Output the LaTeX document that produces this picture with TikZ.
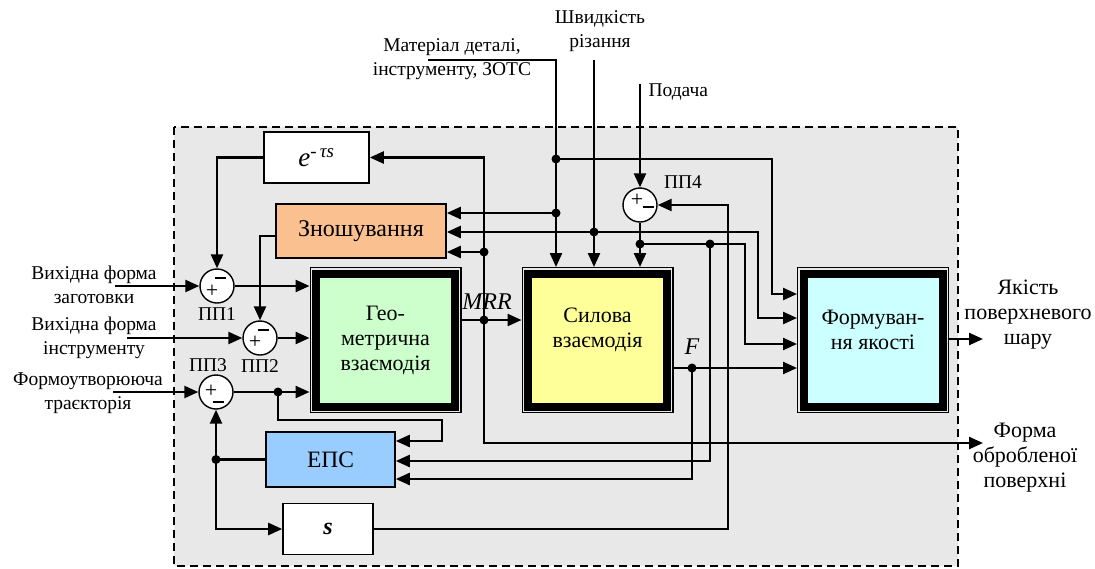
\documentclass[tikz,border=0pt]{standalone}
\usepackage{fontspec}
\setmainfont{Liberation Serif}
\usetikzlibrary{arrows.meta, positioning}

\definecolor{bggray}{HTML}{E8E8E8}
\definecolor{geogreen}{HTML}{CCFFCC}
\definecolor{forceyellow}{HTML}{FFFF99}
\definecolor{qualcyan}{HTML}{CCFFFF}
\definecolor{epsblue}{HTML}{99CCFF}
\definecolor{wearorange}{HTML}{FAC090}

\begin{document}
\begin{tikzpicture}[
    x=1pt, y=-1pt,
    every node/.style={font=\fontsize{19.5}{24}\selectfont},
    bigtxt/.style={font=\fontsize{22}{25}\selectfont},
    wire/.style={line width=2.4pt},
    arrow/.style={line width=2.4pt, -{Triangle[length=14pt,width=12pt]}},
    boundary/.style={fill=bggray, line width=2.4pt, dash pattern=on 8pt off 5pt},
    simple/.style={rectangle, draw=black, line width=1.6pt, inner sep=0pt},
    mainblock/.style={rectangle, draw=black, line width=8pt, minimum width=139pt, minimum height=133pt,
        outer sep=6.5pt, align=center, bigtxt,
        preaction={draw=black, line width=13pt}, preaction={draw=bggray, line width=10.5pt}},
    sum/.style={circle, draw=black, fill=white, line width=1.4pt, minimum size=34pt, inner sep=0pt},
    sgn/.style={font=\fontsize{22}{22}\selectfont, inner sep=0pt},
    dot/.style={circle, fill=black, inner sep=0pt, minimum size=9pt},
    lbl/.style={align=center}
]
\useasboundingbox (0,0) rectangle (1095,568);

% process boundary
\draw[boundary] (174,127) rectangle (958,566);

% blocks
\node[simple, fill=white, minimum width=105pt, minimum height=51pt, font=\fontsize{27}{27}\selectfont] (delay) at (316.5,157.5) {\textit{e}\textsuperscript{-\,\textit{τs}}};
\node[simple, fill=wearorange, minimum width=170pt, minimum height=54pt, font=\fontsize{24}{24}\selectfont] (wear) at (361,231) {Зношування};
\node[simple, fill=epsblue, minimum width=129pt, minimum height=55pt, font=\fontsize{23.5}{24}\selectfont] (eps) at (330.5,459.5) {ЕПС};
\node[simple, fill=white, minimum width=90pt, minimum height=51pt, font=\fontsize{24}{24}\selectfont] (sbox) at (328,529) {\textit{\textbf{s}}};

\node[mainblock, fill=geogreen] (geo) at (385.5,340) {Гео-\\метрична\\взаємодія};
\node[mainblock, fill=forceyellow, label={[lbl, bigtxt, yshift=10pt]center:Силова\\взаємодія}] (force) at (597.5,340) {};
\node[mainblock, fill=qualcyan, label={[lbl, bigtxt, yshift=10pt]center:Формуван-\\ня якості}] (qual) at (873,340) {};

% summing points
\node[sum, label={[sgn, xshift=-5pt, yshift=-5pt]center:+}, label={[sgn, xshift=3pt, yshift=8pt]center:\rule{11pt}{1.4pt}}] (pp1) at (217,286) {};
\node[sum, label={[sgn, xshift=-5pt, yshift=-4pt]center:+}, label={[sgn, xshift=3pt, yshift=8pt]center:\rule{11pt}{1.4pt}}] (pp2) at (260,338) {};
\node[sum, label={[sgn, xshift=-5pt, yshift=1pt]center:+}, label={[sgn, xshift=2pt, yshift=-10pt]center:\rule{11pt}{1.4pt}}] (pp3) at (216,392) {};
\node[sum, label={[sgn, xshift=-3pt, yshift=5pt]center:+}, label={[sgn, xshift=8pt, yshift=-2pt]center:\rule{11pt}{1.4pt}}] (pp4) at (640,205) {};

\node (pp1lbl) [below=0pt of pp1] {ПП1};
\node (pp2lbl) [below=0pt of pp2] {ПП2};
\node (pp3lbl) [above=-1pt of pp3, xshift=-8pt] {ПП3};
\node (pp4lbl) [above right=0pt and 8pt of pp4] {ПП4};

% junctions
\node[dot] (d1) at (278,392) {};
\node[dot] (d2) at (484,320) {};
\node[dot] (d3) at (484,252) {};
\node[dot] (d4) at (556,159) {};
\node[dot] (d5) at (556,213) {};
\node[dot] (d6) at (594,232) {};
\node[dot] (d7) at (640,244) {};
\node[dot] (d8) at (710,244) {};
\node[dot] (d9) at (692,368) {};
\node[dot] (d10) at (216,459.5) {};

% inputs and outputs
\node[lbl] (blanktxt) at (94,285) {Вихідна форма\\заготовки};
\node[lbl] (tooltxt) at (94,338) {Вихідна форма\\інструменту};
\node[lbl] (pathtxt) at (88,393) {Формоутворююча\\траєкторія};
\node[lbl] (mattxt) at (452,59) {Матеріал деталі,\\інструменту, ЗОТС};
\node[lbl] (speedtxt) at (600,31) {Швидкість\\різання};
\node[anchor=west] (feedtxt) at (645,92) {Подача};
\node[lbl, bigtxt] (qualtxt) at (1028,315) {Якість\\поверхневого\\шару};
\node[lbl, bigtxt] (surftxt) at (1025,458) {Форма\\обробленої\\поверхні};
\node[font=\fontsize{24}{24}\selectfont] (mrrtxt) at (487,302) {\textit{MRR}};
\node[font=\fontsize{24}{24}\selectfont] (ftxt) at (692,347) {\textit{F}};

\coordinate (blankin) at (115,286);
\coordinate (toolin) at (127,338);
\coordinate (pathin) at (113,392);
\coordinate (matin) at (428,60);
\coordinate (speedin) at (594,60);
\coordinate (feedin) at (640,84);
\coordinate (qualout) at (983,339);
\coordinate (surfout) at (983,443);

% connections
\draw[arrow] (blankin) -- (pp1);
\draw[arrow] (toolin) -- (pp2);
\draw[arrow] (pathin) -- (pp3);
\draw[arrow] (delay.west) -| (pp1);
\draw[arrow] ([yshift=-5pt]wear.west) -| (pp2);
\draw[arrow] (pp1) -- (pp1 -| geo.west);
\draw[arrow] (pp2) -- (pp2 -| geo.west);
\draw[arrow] (pp3) -- (pp3 -| geo.west);
\draw[arrow] (d1.center) |- (442,420) |- (eps.east |- 0,441);

\draw[arrow] (geo.east |- d2) -- (force.west |- d2);
\draw[arrow] (d2.center) |- (delay.east);
\draw[arrow] (d3.center) -- (d3 -| wear.east);
\draw[arrow] (d2.center) |- (surfout);

\draw[arrow] (matin) -| (556,0 |- force.north);
\draw[arrow] (d4.center) -| (772,294) -- (qual.west |- 0,294);
\draw[arrow] (d5.center) -- (d5 -| wear.east);
\draw[arrow] (speedin) -- (speedin |- force.north);
\draw[arrow] (d6.center) -- (d6 -| wear.east);
\draw[arrow] (d6.center) -| (758,318) -- (qual.west |- 0,318);

\draw[arrow] (feedin) -- (pp4);
\draw[arrow] (pp4) -- (pp4 |- force.north);
\draw[arrow] (d7.center) -| (745,344) -- (qual.west |- 0,344);
\draw[arrow] (d8.center) |- (eps.east |- 0,461);

\draw[arrow] (force.east |- d9) -- (qual.west |- d9);
\draw[arrow] (d9.center) |- (eps.east |- 0,479);

\draw[wire] (eps.west) -- (d10.center);
\draw[arrow] (d10.center) -- (pp3);
\draw[arrow] (d10.center) |- (sbox.west);
\draw[arrow] (sbox.east) -| (728,205) -- (pp4);

\draw[arrow] (qual.east |- qualout) -- (qualout);

\end{tikzpicture}
\end{document}
